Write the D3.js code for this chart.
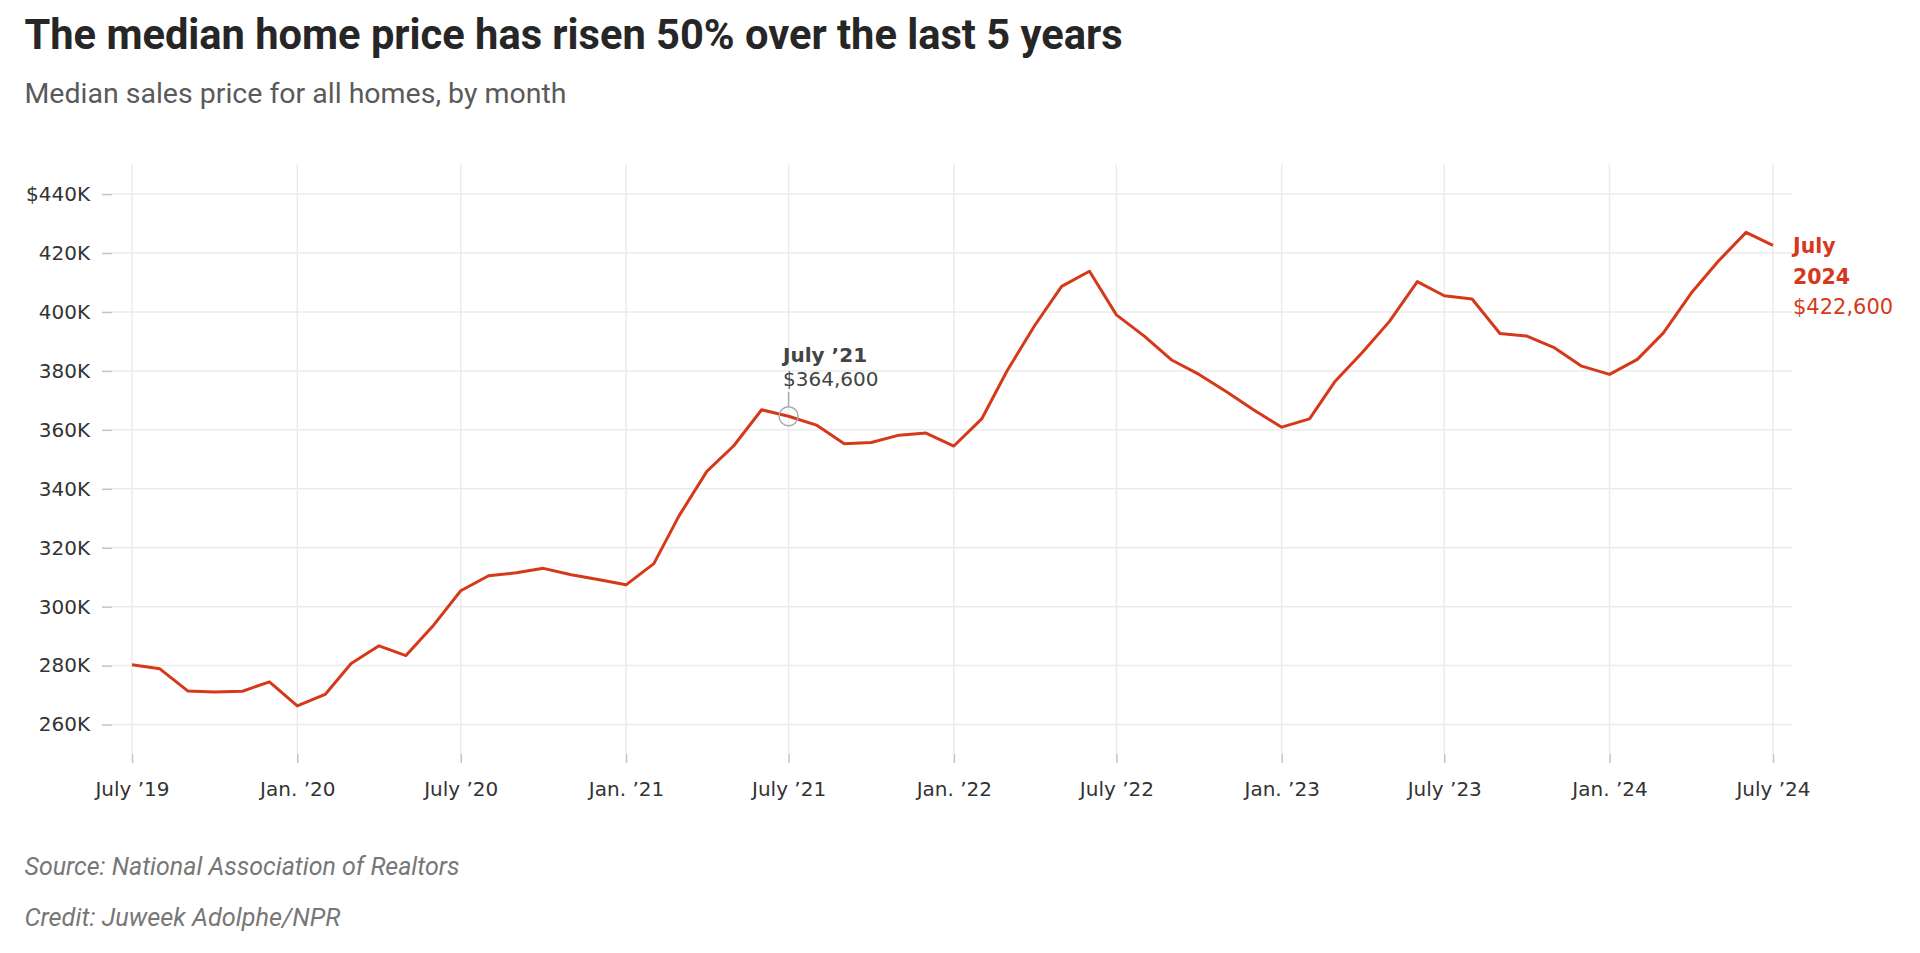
<!DOCTYPE html>
<html>
<head>
<meta charset="utf-8">
<script src="https://cdn.jsdelivr.net/npm/d3@7"></script>
<style>
  html, body { margin: 0; padding: 0; background: #ffffff; }
  svg { display: block; }
</style>
</head>
<body>
<svg id="chart" width="1920" height="953"></svg>
<script>
// ---- Data ----
const months = [
  "2019-07","2019-08","2019-09","2019-10","2019-11","2019-12",
  "2020-01","2020-02","2020-03","2020-04","2020-05","2020-06","2020-07","2020-08","2020-09","2020-10","2020-11","2020-12",
  "2021-01","2021-02","2021-03","2021-04","2021-05","2021-06","2021-07","2021-08","2021-09","2021-10","2021-11","2021-12",
  "2022-01","2022-02","2022-03","2022-04","2022-05","2022-06","2022-07","2022-08","2022-09","2022-10","2022-11","2022-12",
  "2023-01","2023-02","2023-03","2023-04","2023-05","2023-06","2023-07","2023-08","2023-09","2023-10","2023-11","2023-12",
  "2024-01","2024-02","2024-03","2024-04","2024-05","2024-06","2024-07"
];
const medianPrice = [
  280300, 278900, 271400, 271000, 271300, 274500,
  266300, 270200, 280700, 286700, 283400, 293800, 305400, 310500, 311500, 313000, 310800, 309200,
  307400, 314600, 330800, 345900, 354600, 366800, 364600, 361600, 355300, 355700, 358200, 358900,
  354500, 363700, 379900, 395400, 408700, 413800, 399000, 391800, 383600, 378800, 372800, 366700,
  360900, 363700, 376300, 386300, 396800, 410300, 405500, 404400, 392700, 391800, 387800, 381600,
  378800, 383900, 392900, 406400, 417200, 427000, 422600
];
const yTickValues = [260000, 280000, 300000, 320000, 340000, 360000, 380000, 400000, 420000, 440000];
const yTickLabels = ["260K", "280K", "300K", "320K", "340K", "360K", "380K", "400K", "420K", "$440K"];
const xTickDates = ["2019-07","2020-01","2020-07","2021-01","2021-07","2022-01","2022-07","2023-01","2023-07","2024-01","2024-07"];
const xTickLabels = ["July \u201919","Jan. \u201920","July \u201920","Jan. \u201921","July \u201921","Jan. \u201922","July \u201922","Jan. \u201923","July \u201923","Jan. \u201924","July \u201924"];
const highlight = { month: "2021-07", label: "July \u201921", value: "$364,600" };
const endLabel = ["July", "2024", "$422,600"];

const titleText = "The median home price has risen 50% over the last 5 years";
const subtitleText = "Median sales price for all homes, by month";
const sourceText = "Source: National Association of Realtors";
const creditText = "Credit: Juweek Adolphe/NPR";

// ---- Setup ----
const parse = d3.timeParse("%Y-%m");
const data = months.map((m, i) => ({ date: parse(m), value: medianPrice[i] }));

const svg = d3.select("#chart");
const plot = { left: 112, right: 1792, top: 164.6, bottom: 754 };
const HEAD_FONT = "Roboto, 'Noto Sans', sans-serif";
const LABEL_FONT = "'DejaVu Sans', Verdana, sans-serif";

const x = d3.scaleTime()
  .domain([parse("2019-07"), parse("2024-07")])
  .range([132, 1773]);
const y = d3.scaleLinear()
  .domain([250000, 450000])
  .range([plot.bottom, plot.top]);

const RED = "#d6391a";

function fitText(sel, target) {
  const node = sel.node();
  const fs = parseFloat(sel.style("font-size"));
  const w = node.getComputedTextLength();
  if (w > 0) sel.style("font-size", (fs * target / w).toFixed(2) + "px");
}

// ---- Titles ----
const title = svg.append("text").attr("x", 24.5).attr("y", 49)
  .style("font-family", HEAD_FONT).style("font-size", "36px").style("font-weight", 700)
  .attr("fill", "#262626")
  .text(titleText);
fitText(title, 1098);

const sub = svg.append("text").attr("x", 24.5).attr("y", 103)
  .style("font-family", HEAD_FONT).style("font-size", "24px")
  .attr("fill", "#5a5a5a")
  .text(subtitleText);
fitText(sub, 542);

// ---- Grid ----
const gGrid = svg.append("g");
gGrid.selectAll("line.h").data(yTickValues).join("line")
  .attr("class", "h")
  .attr("x1", plot.left).attr("x2", plot.right)
  .attr("y1", d => y(d)).attr("y2", d => y(d))
  .attr("stroke", "#ebebeb").attr("stroke-width", 1.5);
gGrid.selectAll("line.v").data(xTickDates).join("line")
  .attr("class", "v")
  .attr("x1", d => x(parse(d))).attr("x2", d => x(parse(d)))
  .attr("y1", plot.top).attr("y2", plot.bottom)
  .attr("stroke", "#ebebeb").attr("stroke-width", 1.5);

// ---- Axes ----
const yAxis = d3.axisLeft(y)
  .tickValues(yTickValues)
  .tickSize(10)
  .tickPadding(12)
  .tickFormat((d, i) => yTickLabels[i]);
const gy = svg.append("g").attr("transform", `translate(${plot.left},0)`).call(yAxis);
gy.select(".domain").remove();
gy.selectAll(".tick line").attr("stroke", "#c4c4c4").attr("stroke-width", 1.5);
gy.selectAll(".tick text").attr("fill", "#333")
  .style("font-family", LABEL_FONT).style("font-size", "20px");

const xAxis = d3.axisBottom(x)
  .tickValues(xTickDates.map(parse))
  .tickSize(9)
  .tickPadding(19)
  .tickFormat((d, i) => xTickLabels[i]);
const gx = svg.append("g").attr("transform", `translate(0,${plot.bottom})`).call(xAxis);
gx.select(".domain").remove();
gx.selectAll(".tick line").attr("stroke", "#c4c4c4").attr("stroke-width", 1.5);
gx.selectAll(".tick text").attr("fill", "#333")
  .style("font-family", LABEL_FONT).style("font-size", "20px");

// ---- Line ----
const line = d3.line().x(d => x(d.date)).y(d => y(d.value));
svg.append("path").datum(data)
  .attr("d", line)
  .attr("fill", "none")
  .attr("stroke", RED)
  .attr("stroke-width", 3)
  .attr("stroke-linejoin", "round")
  .attr("stroke-linecap", "butt");

// ---- Highlight annotation ----
const hd = data.find(d => +d.date === +parse(highlight.month));
const hx = x(hd.date), hy = y(hd.value);
svg.append("line")
  .attr("x1", hx).attr("x2", hx).attr("y1", 392).attr("y2", hy - 9.5)
  .attr("stroke", "#aaa").attr("stroke-width", 1.5);
svg.append("circle").attr("cx", hx).attr("cy", hy).attr("r", 9.5)
  .attr("fill", "none").attr("stroke", "#aaa").attr("stroke-width", 1.5);
svg.append("text").attr("x", hx - 5.5).attr("y", 361.5)
  .style("font-family", LABEL_FONT).style("font-size", "20px").style("font-weight", 700)
  .attr("fill", "#444")
  .text(highlight.label);
svg.append("text").attr("x", hx - 5.5).attr("y", 386)
  .style("font-family", LABEL_FONT).style("font-size", "20px")
  .attr("fill", "#444")
  .text(highlight.value);

// ---- End label ----
const last = data[data.length - 1];
const ex = x(last.date) + 20;
const endG = svg.append("g").attr("fill", RED);
endG.append("text").attr("x", ex).attr("y", 253)
  .style("font-family", LABEL_FONT).style("font-size", "20.5px").style("font-weight", 700)
  .text(endLabel[0]);
endG.append("text").attr("x", ex).attr("y", 284)
  .style("font-family", LABEL_FONT).style("font-size", "20.5px").style("font-weight", 700)
  .text(endLabel[1]);
endG.append("text").attr("x", ex).attr("y", 314)
  .style("font-family", LABEL_FONT).style("font-size", "21px")
  .text(endLabel[2]);

// ---- Footer ----
const src = svg.append("text").attr("x", 24.5).attr("y", 875)
  .style("font-family", HEAD_FONT).style("font-size", "21px").style("font-style", "italic")
  .attr("fill", "#777")
  .text(sourceText);
fitText(src, 435);
const cred = svg.append("text").attr("x", 24.5).attr("y", 926)
  .style("font-family", HEAD_FONT).style("font-size", "21px").style("font-style", "italic")
  .attr("fill", "#777")
  .text(creditText);
fitText(cred, 316);
</script>
</body>
</html>
